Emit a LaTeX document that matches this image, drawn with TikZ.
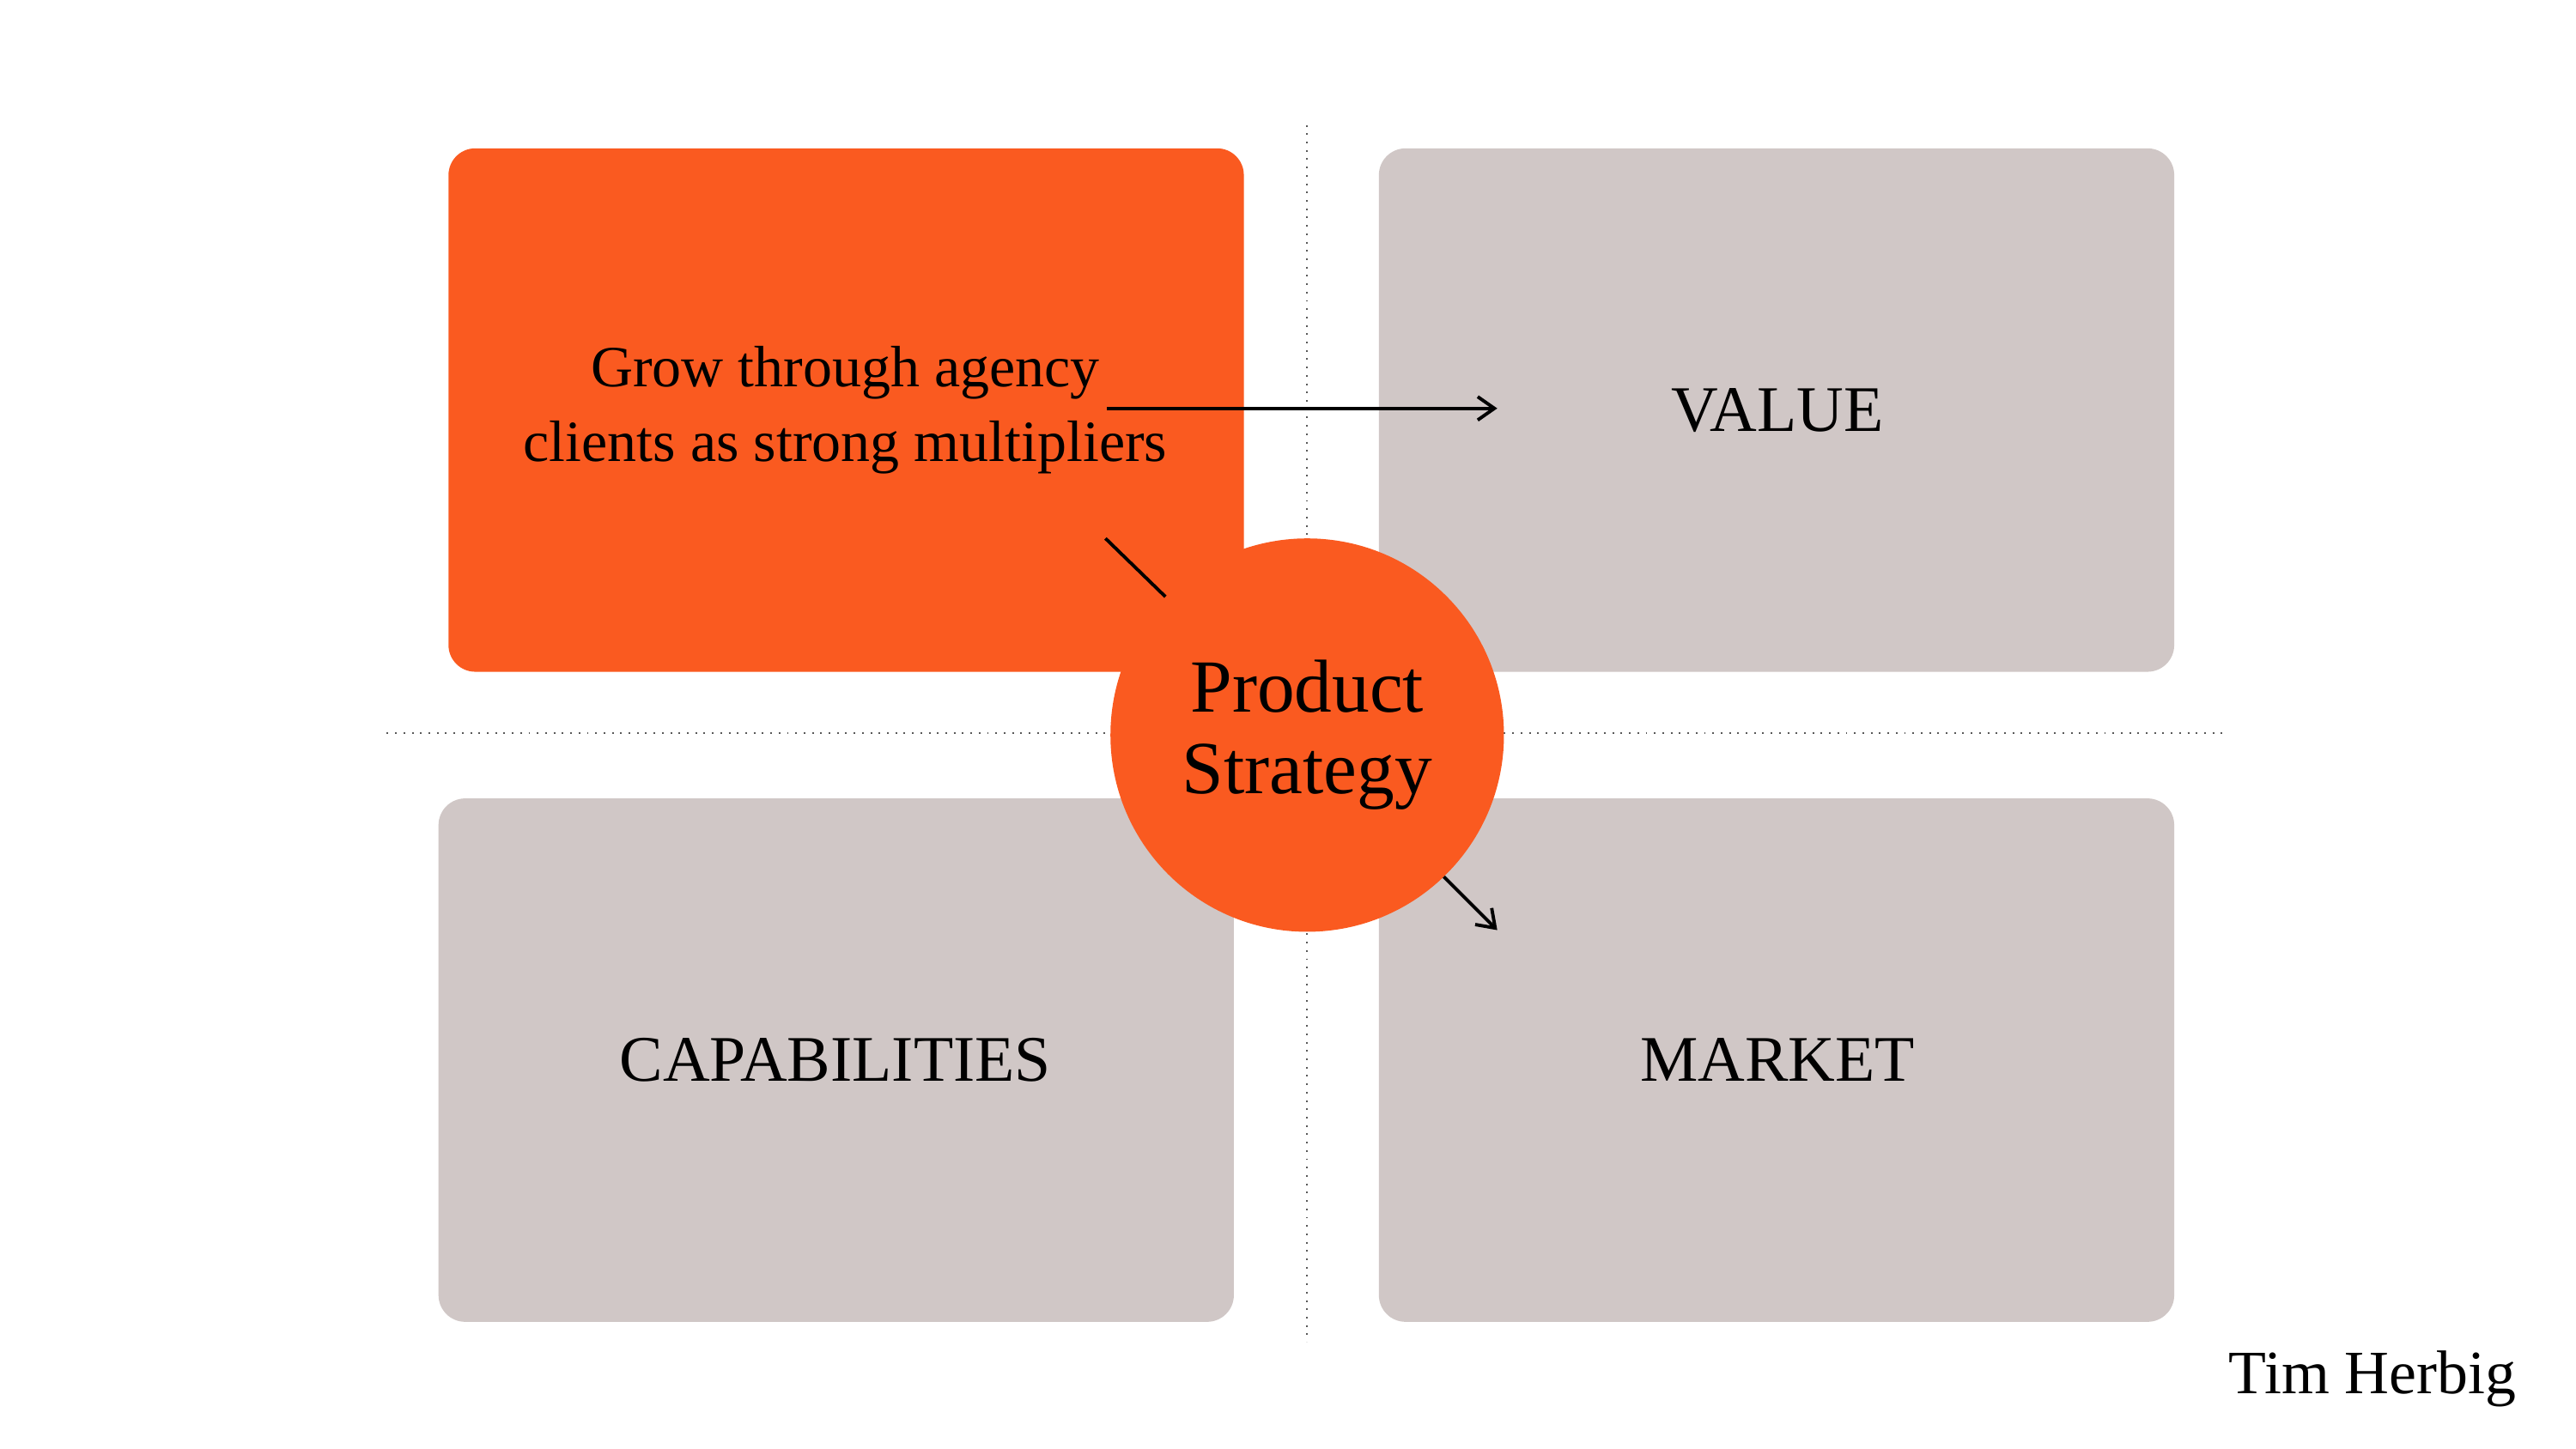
\documentclass[tikz,border=0pt]{standalone}
\usepackage{fontspec}
\setmainfont{Liberation Serif}
\usetikzlibrary{arrows.meta}
\definecolor{orng}{HTML}{FA5A20}
\definecolor{gry}{HTML}{D0C7C6}
\begin{document}
\begin{tikzpicture}[x=0.5pt,y=-0.5pt,
  box/.style={rounded corners=8pt,inner sep=0pt},
  lbl/.style={font=\fontsize{19.5}{23}\selectfont},
  dots/.style={dotted,line width=0.5pt,gray!70!black},
  conn/.style={line width=1pt,-{Straight Barb[length=5pt,width=7pt]}}]
\useasboundingbox (0,0) rectangle (1545,869);
\fill[white] (0,0) rectangle (1545,869);
\draw[dots] (784,75) coordinate(vt) -- (784,805) coordinate(vb);
\draw[dots] (232,440) coordinate(hl) -- (1335,440) coordinate(hr);
\fill[orng,box] (269,89) rectangle (746,403);
\fill[gry,box] (827,89) rectangle (1304,403);
\fill[gry,box] (263,479) rectangle (740,793);
\fill[gry,box] (827,479) rectangle (1304,793);
\node[align=center,font=\fontsize{17.5}{22.5}\selectfont] (goal) at (507,246) {Grow through agency\\clients as strong multipliers};
\node[lbl] (value) at (1066,246) {VALUE};
\node[lbl] (cap) at (501,636) {CAPABILITIES};
\node[lbl] (market) at (1066,636) {MARKET};
\node[circle,fill=orng,minimum size=118pt,inner sep=0pt,align=center,font=\fontsize{22.5}{24.5}\selectfont] (ps) at (784,441) {Product\\Strategy};
\coordinate (a1) at (664,245); \coordinate (a2) at (898,245);
\draw[conn] (a1) -- (a2);
\coordinate (l1) at (663,323); \coordinate (l2) at (699,358);
\draw[line width=1pt] (l1) -- (l2);
\coordinate (m1) at (866,526); \coordinate (m2) at (898,558);
\draw[conn] (m1) -- (m2);
\node[font=\fontsize{18.5}{20}\selectfont] (tim) at (1423,827) {Tim Herbig};
\end{tikzpicture}
\end{document}
